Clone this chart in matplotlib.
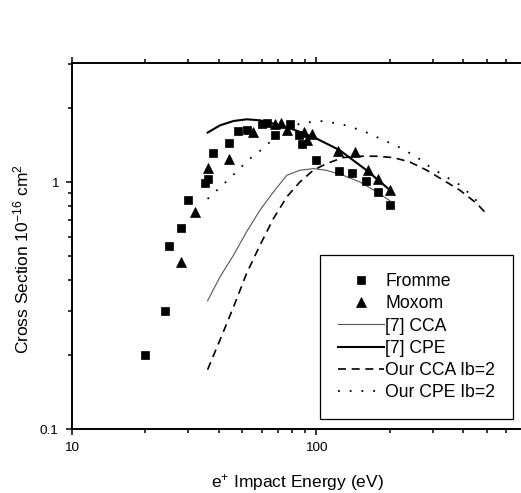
import matplotlib
matplotlib.use('Agg')
import matplotlib.pyplot as plt
from matplotlib.lines import Line2D
from matplotlib.ticker import FixedLocator, NullFormatter

plt.rcParams['font.family'] = ['Liberation Sans', 'DejaVu Sans']
plt.rcParams['mathtext.fontset'] = 'custom'
plt.rcParams['mathtext.rm'] = 'Liberation Sans'
plt.rcParams['mathtext.it'] = 'Liberation Sans:italic'
plt.rcParams['mathtext.bf'] = 'Liberation Sans:bold'

# ---------------- data ----------------
fromme_E = [20, 24, 25, 28, 30, 35, 36, 38, 44, 48, 52, 60, 63, 68, 78, 85, 88, 100, 124, 140, 160, 180, 200]
fromme_s = [0.20, 0.30, 0.55, 0.65, 0.85, 0.99, 1.035, 1.31, 1.44, 1.61, 1.62, 1.72, 1.73, 1.56, 1.72, 1.55, 1.43, 1.23, 1.11, 1.09, 1.01, 0.91, 0.81]

moxom_E = [28, 32, 36, 44, 55, 68, 72, 76, 89, 92, 96, 123, 145, 164, 180, 200]
moxom_s = [0.475, 0.76, 1.14, 1.24, 1.60, 1.72, 1.74, 1.62, 1.60, 1.48, 1.57, 1.34, 1.32, 1.12, 1.03, 0.93]

cca7_E = [36, 40.5, 46, 52, 59, 67, 76, 86, 97.5, 110, 129, 151, 177, 201]
cca7_s = [0.331, 0.414, 0.507, 0.63, 0.771, 0.914, 1.067, 1.118, 1.135, 1.118, 1.067, 1.003, 0.914, 0.84]

cpe7_E = [36, 40.5, 46, 52, 59, 67, 81, 97.5, 125, 161, 201]
cpe7_s = [1.588, 1.70, 1.77, 1.798, 1.781, 1.727, 1.633, 1.525, 1.348, 1.118, 0.928]

ourcca_E = [36, 40.5, 46, 52, 59, 67, 76, 86, 97.5, 110.6, 129, 151, 177, 207, 242, 284, 332, 388, 455, 495]
ourcca_s = [0.174, 0.23, 0.313, 0.427, 0.556, 0.713, 0.873, 1.003, 1.118, 1.19, 1.258, 1.274, 1.274, 1.258, 1.208, 1.118, 1.019, 0.928, 0.82, 0.75]

ourcpe_E = [36, 40, 44, 48.5, 53, 59, 66, 73.5, 87, 107, 129, 156, 183, 214, 258, 293, 332, 388, 440, 476]
ourcpe_s = [0.856, 0.943, 1.028, 1.132, 1.235, 1.339, 1.479, 1.608, 1.738, 1.77, 1.711, 1.613, 1.502, 1.403, 1.266, 1.153, 1.067, 0.975, 0.87, 0.80]

legend_labels = ['Fromme', 'Moxom', '[7] CCA', '[7] CPE', 'Our CCA Ib=2', 'Our CPE Ib=2']
xlabel = r'e$^{+}$ Impact Energy (eV)'
ylabel = r'Cross Section 10$^{-16}$ cm$^{2}$'

# ---------------- figure ----------------
fig = plt.figure(figsize=(5.21, 4.93), dpi=100)
ax = fig.add_axes([0.1376, 0.1298, 0.8605, 0.7424])
ax.set_xscale('log')
ax.set_yscale('log')
ax.set_xlim(10, 684)
ax.set_ylim(0.1, 3.04)

ax.plot(cca7_E, cca7_s, '-', color='#555555', lw=0.8)
ax.plot(cpe7_E, cpe7_s, '-', color='black', lw=1.5)
ax.plot(ourcca_E, ourcca_s, color='black', lw=1.2, linestyle=(0, (4.8, 3.4)))
ax.plot(ourcpe_E, ourcpe_s, color='black', lw=1.3, linestyle=(0, (1, 5.5)))
ax.plot(fromme_E, fromme_s, 's', color='black', ms=5.2, mew=0.5)
ax.plot(moxom_E, moxom_s, '^', color='black', ms=6.8, mew=0.5)

# ticks
ax.xaxis.set_major_locator(FixedLocator([10, 100]))
ax.set_xticklabels(['10', '100'])
ax.xaxis.set_minor_locator(FixedLocator([20, 30, 40, 50, 60, 70, 80, 90, 200, 300, 400, 500, 600]))
ax.xaxis.set_minor_formatter(NullFormatter())
ax.yaxis.set_major_locator(FixedLocator([0.1, 1]))
ax.set_yticklabels(['0.1', '1'])
ax.yaxis.set_minor_locator(FixedLocator([0.2, 0.3, 0.4, 0.5, 0.6, 0.7, 0.8, 0.9, 2, 3]))
ax.yaxis.set_minor_formatter(NullFormatter())
ax.tick_params(which='both', direction='out', top=True, right=False, width=1.1, labelsize=9.7, pad=5)
ax.tick_params(which='major', length=4.5)
ax.tick_params(which='minor', length=3.0)
for side in ['left', 'bottom', 'top']:
    ax.spines[side].set_linewidth(1.4)
ax.spines['right'].set_visible(False)

fig.text(297/521, 1 - 487/493, xlabel, ha='center', va='baseline', fontsize=12.5)
fig.text(28/521, 1 - 259.5/493, ylabel, ha='center', va='baseline', rotation=90,
         rotation_mode='anchor', fontsize=12.5)

handles = [
    Line2D([], [], marker='s', ls='none', color='black', ms=5.2, mew=0.5),
    Line2D([], [], marker='^', ls='none', color='black', ms=6.8, mew=0.5),
    Line2D([], [], color='#555555', lw=0.8),
    Line2D([], [], color='black', lw=1.5),
    Line2D([], [], color='black', lw=1.2, linestyle=(0, (4.8, 3.4))),
    Line2D([], [], color='black', lw=1.3, linestyle=(0, (1, 5.5))),
]
leg = ax.legend(handles, legend_labels, loc='lower right', bbox_to_anchor=(0.9844, 0.0273),
                fontsize=12.7, frameon=True, fancybox=False, edgecolor='black',
                framealpha=1, borderpad=1.0, labelspacing=0.3, handlelength=2.6,
                handletextpad=0.1, borderaxespad=0, numpoints=1)
leg.get_frame().set_linewidth(0.9)

fig.savefig('out.png', dpi=100)
